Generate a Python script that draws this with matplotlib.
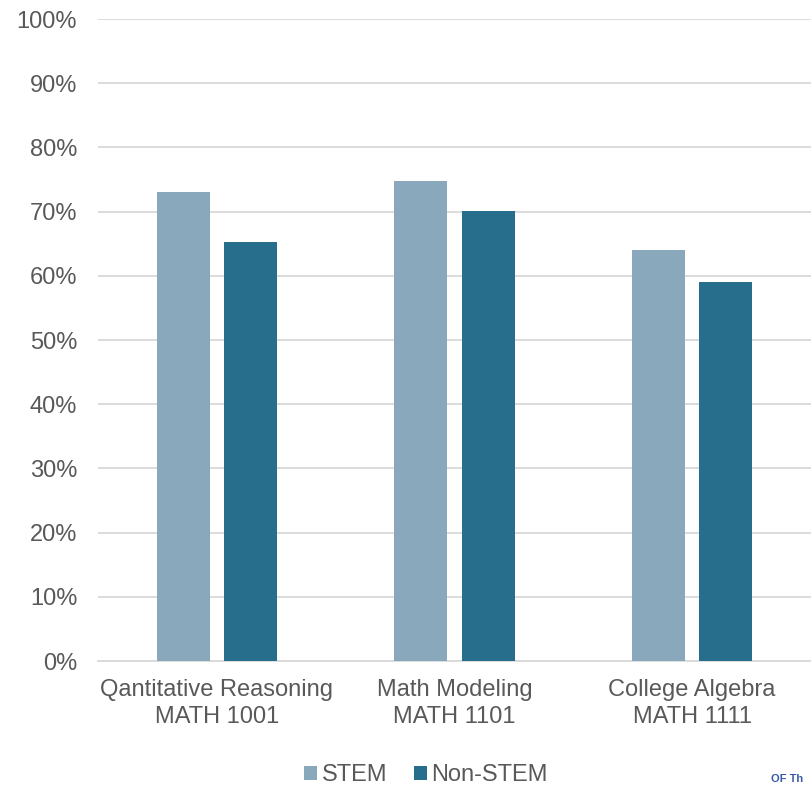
import numpy as np
import matplotlib.pyplot as plt
from matplotlib.ticker import PercentFormatter

plt.rcParams['font.family'] = ['Liberation Sans', 'DejaVu Sans']

courses = ["Qantitative Reasoning\nMATH 1001", "Math Modeling\nMATH 1101", "College Algebra\nMATH 1111"]
stem = [73.0, 74.8, 64.0]
non_stem = [65.2, 70.1, 59.0]

col_stem = "#8aa8bc"
col_non = "#266e8b"
txt = "#595959"
fs = 17

fig = plt.figure(figsize=(8.11, 7.86), dpi=100)
ax = fig.add_axes([98 / 811, 1 - 661 / 786, 1 - 98 / 811, (661 - 19) / 786])

x = np.arange(len(courses))
w = 0.223
off = 0.142
ax.bar(x - off, stem, w, color=col_stem, label="STEM", zorder=3)
ax.bar(x + off, non_stem, w, color=col_non, label="Non-STEM", zorder=3)

ax.set_xlim(-0.5, 2.5)
ax.set_ylim(0, 100)
ax.set_yticks(np.arange(0, 101, 10))
ax.yaxis.set_major_formatter(PercentFormatter(decimals=0))
ax.grid(axis='y', color="#d9d9d9", linewidth=1.3, zorder=0)
for s in ['top', 'right', 'left']:
    ax.spines[s].set_visible(False)
ax.spines['bottom'].set_color("#d9d9d9")
ax.spines['bottom'].set_linewidth(1.3)

ax.set_xticks(x)
ax.set_xticklabels(courses, linespacing=1.3)
ax.tick_params(axis='both', length=0, labelsize=fs, labelcolor=txt)
ax.tick_params(axis='y', pad=15)
ax.tick_params(axis='x', pad=13)

fig.legend(loc='center', bbox_to_anchor=(426 / 811, 1 - 775 / 786), ncol=2,
           frameon=False, fontsize=fs, labelcolor=txt, handlelength=0.55,
           handleheight=0.55, handletextpad=0.2, columnspacing=1.1)

# logo fragment at the bottom edge
fig.text(771 / 811, 1 - 774 / 786, "OF Th", color="#3a5aa8", fontsize=8,
         fontweight='bold', va='top', ha='left')

fig.savefig("out.png", dpi=100)
